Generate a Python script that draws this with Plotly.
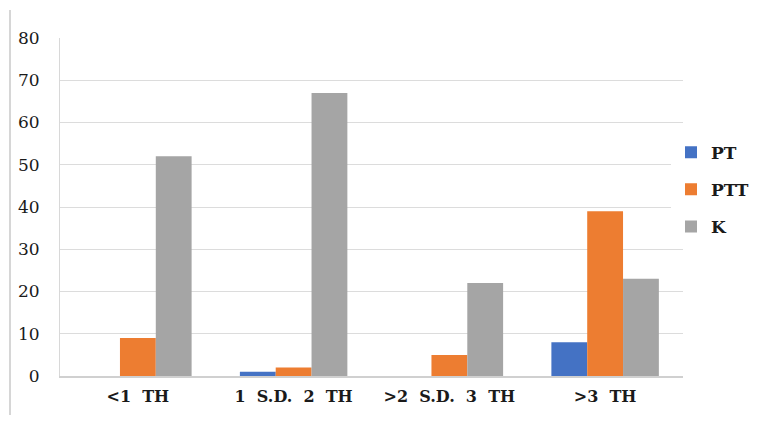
import plotly.graph_objects as go

categories = ["<1  TH", "1  S.D.  2  TH", ">2  S.D.  3  TH", ">3  TH"]
pt = [0, 1, 0, 8]
ptt = [9, 2, 5, 39]
k = [52, 67, 22, 23]

series = [("PT", pt, "#4472C4"), ("PTT", ptt, "#ED7D31"), ("K", k, "#A5A5A5")]

SERIF = "DejaVu Serif"

fig = go.Figure()
for name, vals, col in series:
    fig.add_trace(go.Bar(x=categories, y=vals, name=name, marker_color=col,
                         marker_line_width=0, legendgroup=name))

W, H = 761, 421
OFF = 8  # page body margin
ml, mr, mt, mb = 52, 86, 30, 53
pw, ph = W - ml - mr, H - mt - mb
fig.update_layout(
    width=W, height=H,
    margin=dict(l=ml, r=mr, t=mt, b=mb, autoexpand=False),
    paper_bgcolor="white", plot_bgcolor="white",
    barmode="group", bargap=0.31, bargroupgap=0,
    font=dict(family=SERIF, color="#1a1a1a"),
    legend=dict(xref="container", x=(671 - OFF) / W, y=0.714,
                xanchor="left", yanchor="top",
                font=dict(size=17, family=SERIF, weight="bold"),
                tracegroupgap=12, itemwidth=30),
    xaxis=dict(showline=True, linecolor="#D0D0D0", linewidth=1.5,
               tickfont=dict(size=16, family=SERIF, weight="bold"),
               ticks="", ticklabelstandoff=5),
    yaxis=dict(range=[0, 80], dtick=10, showgrid=True, gridcolor="#DCDCDC",
               gridwidth=1.2, showline=True, linecolor="#D8D8D8", linewidth=1,
               zeroline=False, tickfont=dict(size=17, family=SERIF),
               ticks="", ticklabelstandoff=16),
    shapes=[dict(type="line", xref="paper", yref="paper",
                 x0=(10 - OFF - ml) / pw, x1=(10 - OFF - ml) / pw,
                 y0=-(415 - OFF - (H - mb)) / ph, y1=1 + (mt - (10 - OFF)) / ph,
                 line=dict(color="#D6D6D6", width=2))],
)

fig.write_html("out.html")
